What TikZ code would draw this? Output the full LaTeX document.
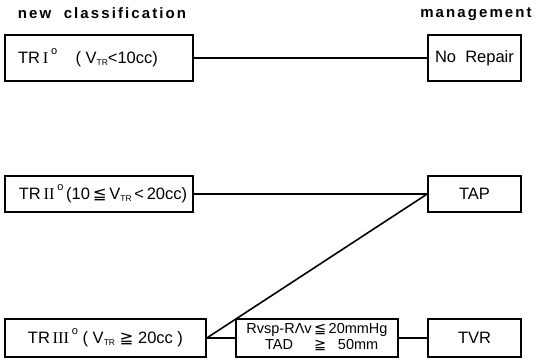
\documentclass[tikz,border=0pt]{standalone}
\usepackage{fontspec}
\setmainfont{Liberation Sans}
\newfontfamily\symfont{DejaVu Sans}
\newfontfamily\romfont{Liberation Serif}
\newfontfamily\widefont[LetterSpace=14]{Liberation Sans}
\newcommand{\vtr}{V\raisebox{-0.25ex}{\fontsize{8.5}{8.5}\selectfont TR}}
\newcommand{\grade}[1]{{\romfont #1}\,\raisebox{1ex}{\fontsize{11}{11}\selectfont o}}
\newcommand{\lesym}{{\symfont ≦}}
\newcommand{\gesym}{{\symfont ≧}}

\begin{document}
\begin{tikzpicture}[x=1pt,y=-1pt,
  box/.style={draw,line width=1.6pt,inner sep=0pt,
    font=\fontsize{16.5}{18}\selectfont},
  head/.style={font=\widefont\bfseries\fontsize{15}{17}\selectfont},
  link/.style={line width=1.6pt}]
%\draw[help lines] (0,0) grid[step=20] (536,362);
\useasboundingbox (0,0) rectangle (536,362);

\node[head] (cls) at (102,13) {new\ \ classification};
\node[head] (mgt) at (476,14) {management};

\node[box,minimum width=188pt,minimum height=46pt] (tr1) at (99,58) {TR\,\grade{I}\ \ \ \ ( \vtr<10cc)\hspace*{22pt}};
\node[box,minimum width=188pt,minimum height=36pt] (tr2) at (99,194) {\hspace*{8pt}TR\,\grade{II}\,(10\,\lesym\,\vtr\,<\,20cc)};
\node[box,minimum width=201pt,minimum height=38pt] (tr3) at (105.5,338) {TR\,\grade{III}\ ( \vtr\ \gesym\ 20cc )};

\node[box,minimum width=93pt,minimum height=46pt] (norep) at (474.5,58) {No\ \ Repair};
\node[box,minimum width=93pt,minimum height=36pt] (tap) at (474.5,194) {TAP};
\node[box,minimum width=93pt,minimum height=38pt] (tvr) at (474.5,338) {TVR};
\node[box,minimum width=162pt,minimum height=38pt,font=\fontsize{14.5}{16}\selectfont] (crit) at (317,338)
  {\begin{tabular}{@{}c@{\,}c@{\,}c@{}}Rvsp-RΛv & \lesym & 20mmHg\\ TAD & \gesym & 50mm\end{tabular}};

\draw[link] (tr1) -- (norep);
\draw[link] (tr2) -- (tap);
\draw[link] (tr3.east) -- (tap.west);
\draw[link] (tr3) -- (crit);
\draw[link] (crit) -- (tvr);

\end{tikzpicture}
\end{document}
